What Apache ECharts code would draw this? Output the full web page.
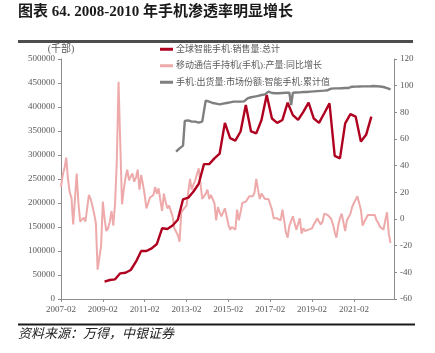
<!DOCTYPE html>
<html>
<head>
<meta charset="utf-8">
<script src="https://cdn.jsdelivr.net/npm/echarts@6/dist/echarts.min.js"></script>
<style>
  html, body { margin: 0; padding: 0; background: #fff; }
  #chart { width: 435px; height: 353px; }
</style>
</head>
<body>
<div id="chart"></div>
<script>
// 月度类目 2007-02 ~ 2023-01
const startYear = 2007, startMonth = 2, monthCount = 192;
const months = [];
for (let i = 0; i < monthCount; i++) {
  const t = startMonth - 1 + i;
  months.push((startYear + Math.floor(t / 12)) + '-' + String(t % 12 + 1).padStart(2, '0'));
}

// 全球智能手机:销售量:总计（季度，千部），从 2009-03 起
const salesStart = '2009-03';
const sales = [
  36000, 39600, 41000, 53500, 54800, 60400, 77700, 100000,
  100000, 105600, 114600, 147300, 145800, 153000, 165000, 207700,
  211000, 224000, 240000, 281000, 281000, 293000, 303000, 367000,
  335000, 330000, 349000, 404000, 349000, 345000, 373000, 425000,
  376000, 367000, 373000, 409000, 383000, 373000, 390000, 409000,
  376000, 367000, 387000, 407600, 298000, 293000, 366000, 385000,
  380000, 328000, 342000, 380000
];

// 移动通信手持机(手机):产量:同比增长（%），从 2007-02 起
const outputStart = '2007-02';
const outputYoy = [
  24, 33, 38, 46, 30, 20, 16, -4, 15, 34, 12, -2,
  -3, 1, -2, 8, 18, 15, 10, 4, -3, -38, -39, -20,
  13, 0, -9, -7, -2, 6, -5, 11, 43, 103, 56, 11,
  22, 31, 37, 29, 32, 34, 28, 31, 37, 22, 33, 26,
  18, 8, 12, 16, 17, 18, 24, 19, 23, 14, 6, 19,
  13, 8, 10, 11, 2, -7, -6, -12, -17, 5, 7, 8,
  10, 20, 30, 22, 26, 29, 29, 38, 39, 15, 17, 19,
  22, 15, 18, 19, 12, -1, 9, 5, 2, 5, 8, 7,
  -4, -8, -6, -7, -8, 7, -1, 5, 12, 12, 13, 15,
  17, 18, 17, 20, 30, 22, 15, 19, 17, 15, 16, 15,
  14, 7, 0.5, 1, 0.5, 2, -1, 7, -1, -10, -14, -5,
  -4, 2, -3, -8, -7, 0.5, -11, -7, -9, -8, -8, -7,
  -7, -4, -2, 0.5, -2, -4, -2, 4, 3, 3, 4, 0,
  -4, -10, -14, -5, 0.5, 4, 3, -9, -1, -2, 4, 9,
  12, 13, 17, 12, 7, -5, -2, 0.5, 3, 3, 3, 3,
  3, -1, -3, -6, -7, -8, -1, 5, -11, -18
];

// 手机:出货量:市场份额:智能手机:累计值（%），从 2012-08 起
const shareStart = '2012-08';
const share = [
  50.5, 52, 53, 54, 55,
  73.5, 74, 74, 73.5, 73, 73, 73, 72.5, 72.3, 72.5, 73, 73,
  88.8, 88.5, 88, 87.5, 87, 86.8, 86.5, 86, 86, 86.2, 86.5, 86.8,
  87, 87.3, 87.5, 87.8, 88, 88, 88, 88, 88, 88, 88.2, 88.5,
  90.5, 91, 91.3, 91.5, 91.8, 92, 92.3, 92.6, 93, 93.3, 93.5, 93.8,
  95.5, 94.8, 94.5, 94.3, 94.3, 94.3, 94.3, 94.4, 94.5, 94.6, 94.7, 94.7,
  94.7, 85.5, 94.7, 94.8, 94.9, 95, 95, 95.1, 95.2, 95.3, 95.3, 95.4,
  95.5, 95.6, 95.7, 95.8, 95.9, 96, 96.1, 96.2, 96.3, 96.4, 96.6, 96.8,
  97.8, 98, 98, 98, 98, 98.1, 98.1, 98.2, 98.2, 98.3, 98.3, 98.4,
  99.2, 99.3, 99.3, 99.4, 99.4, 99.4, 99.5, 99.5, 99.5, 99.5, 99.5, 99.6,
  99.8, 99.7, 99.6, 99.5, 99.4, 99.2, 99, 98.6, 98.2, 97.6, 97.2
];

const seriesNames = [
  '全球智能手机:销售量:总计',
  '移动通信手持机(手机):产量:同比增长',
  '手机:出货量:市场份额:智能手机:累计值'
];
const leftTicks = [0, 500000, 50000];
const rightTicks = [-60, 120, 20];

// 把从某月开始、按步长排列的值变成 [月份, 值]
const toPairs = (start, values, step) => {
  const s = months.indexOf(start);
  return values.map((v, i) => [months[s + i * step], v]);
};

const serif = '"Liberation Serif", "Noto Sans CJK SC", serif';
const axisGray = '#8c8c8c';
const labelGray = '#595959';

const myChart = echarts.init(document.getElementById('chart'));

const option = {
  animation: false,
  grid: { left: 61, right: 41, top: 59, bottom: 54 },
  graphic: [
    // 标题下分隔线
    { type: 'rect', z: 50, shape: { x: 18, y: 40, width: 395, height: 3 }, style: { fill: '#4d4d4d' } },
    // 注释上分隔线
    { type: 'rect', z: 50, shape: { x: 18, y: 323.5, width: 397, height: 2 }, style: { fill: '#1a1a1a' } },
    {
      type: 'text', left: 18, top: 5,
      style: {
        text: '图表 64. 2008-2010 年手机渗透率明显增长',
        font: 'bold 15px "Liberation Serif", "Noto Sans CJK SC"',
        fill: '#1a1a1a'
      }
    },
    {
      type: 'text', left: 18, top: 327,
      style: {
        text: '资料来源：万得，中银证券',
        font: 'italic 13px "Noto Sans CJK SC"',
        fill: '#222'
      }
    }
  ],
  legend: {
    orient: 'vertical',
    left: 155,
    top: 38,
    itemWidth: 13,
    itemHeight: 3,
    itemGap: 4,
    icon: 'rect',
    data: seriesNames,
    textStyle: { fontSize: 9, color: labelGray, fontFamily: serif, lineHeight: 12.5, padding: [0, 0, 0, -2] }
  },
  xAxis: {
    type: 'category',
    data: months,
    boundaryGap: false,
    axisLine: { lineStyle: { color: axisGray, width: 1 } },
    axisTick: { interval: 23, length: 3, lineStyle: { color: axisGray } },
    axisLabel: { interval: 23, fontSize: 9, color: labelGray, fontFamily: serif, margin: 6 },
    splitLine: { show: false }
  },
  yAxis: [
    {
      type: 'value',
      min: leftTicks[0], max: leftTicks[1], interval: leftTicks[2],
      name: '(千部)',
      nameLocation: 'end',
      nameGap: 3,
      nameTextStyle: { fontSize: 10, color: labelGray, fontFamily: serif },
      axisLine: { show: true, lineStyle: { color: axisGray, width: 1 } },
      axisTick: { show: true, length: 3, lineStyle: { color: axisGray } },
      axisLabel: { fontSize: 9, color: labelGray, fontFamily: serif, margin: 6, formatter: v => String(v) },
      splitLine: { show: false }
    },
    {
      type: 'value',
      min: rightTicks[0], max: rightTicks[1], interval: rightTicks[2],
      position: 'right',
      axisLine: { show: true, lineStyle: { color: axisGray, width: 1 } },
      axisTick: { show: true, length: 3, lineStyle: { color: axisGray } },
      axisLabel: { fontSize: 9, color: labelGray, fontFamily: serif, margin: 6, formatter: v => String(v) },
      splitLine: { show: false }
    }
  ],
  series: [
    {
      name: seriesNames[0],
      type: 'line',
      yAxisIndex: 0,
      data: toPairs(salesStart, sales, 3),
      showSymbol: false,
      connectNulls: true,
      z: 4,
      color: '#b0001f',
      lineStyle: { width: 2.4, color: '#b0001f' }
    },
    {
      name: seriesNames[1],
      type: 'line',
      yAxisIndex: 1,
      data: toPairs(outputStart, outputYoy, 1),
      showSymbol: false,
      z: 2,
      color: '#eeaaaa',
      lineStyle: { width: 2, color: '#eeaaaa' }
    },
    {
      name: seriesNames[2],
      type: 'line',
      yAxisIndex: 1,
      data: toPairs(shareStart, share, 1),
      showSymbol: false,
      z: 3,
      color: '#7f7f7f',
      lineStyle: { width: 2.4, color: '#7f7f7f' }
    }
  ]
};

myChart.setOption(option);
</script>
</body>
</html>
